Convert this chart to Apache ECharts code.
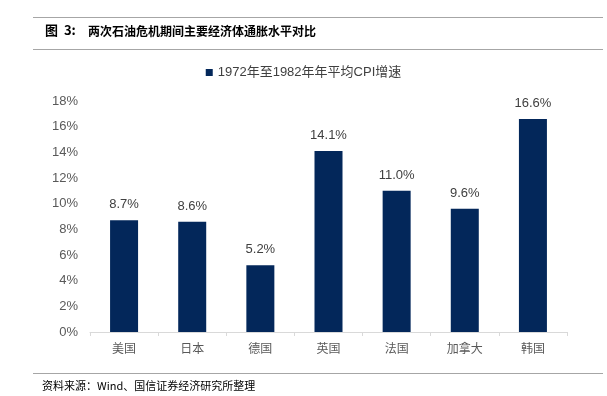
<!DOCTYPE html>
<html><head><meta charset="utf-8">
<script src="https://cdn.jsdelivr.net/npm/echarts@6/dist/echarts.min.js"></script>
<style>html,body{margin:0;padding:0;background:#fff}#c{width:607px;height:396px}</style>
</head><body><div id="c"></div>
<script>
const categories = ['美国','日本','德国','英国','法国','加拿大','韩国'];
const values = [8.7, 8.6, 5.2, 14.1, 11.0, 9.6, 16.6];
const seriesName = '1972年至1982年年平均CPI增速';
const titleNo = '图  3:';
const titleText = '两次石油危机期间主要经济体通胀水平对比';
const sourceText = '资料来源：Wind、国信证券经济研究所整理';
const yMin = 0, yMax = 18, yStep = 2;

const chart = echarts.init(document.getElementById('c'), null, {renderer:'canvas'});
chart.setOption({
  backgroundColor:'#fff',
  animation:false,
  grid:{left:90,right:40,top:101,bottom:64,containLabel:false},
  legend:{
    top:61,left:'center',itemWidth:7,itemHeight:7,itemGap:4,icon:'rect',
    data:[seriesName],
    textStyle:{fontFamily:'Liberation Sans, Noto Sans CJK SC',fontSize:13,color:'#404040'}
  },
  xAxis:{
    type:'category',data:categories,
    axisLine:{lineStyle:{color:'#d9d9d9',width:1}},
    axisTick:{show:true,alignWithLabel:false,length:4,lineStyle:{color:'#d9d9d9'}},
    axisLabel:{color:'#595959',fontSize:12,margin:10,fontFamily:'Noto Sans CJK SC'}
  },
  yAxis:{
    type:'value',min:yMin,max:yMax,interval:yStep,
    axisLine:{show:false},axisTick:{show:false},splitLine:{show:false},
    axisLabel:{color:'#595959',fontSize:13,margin:12,fontFamily:'Liberation Sans',
      formatter:v=>v+'%'}
  },
  series:[{
    name:seriesName,type:'bar',data:values,barWidth:28,
    itemStyle:{color:'#03275a'},
    label:{show:true,position:'top',distance:9,color:'#404040',fontSize:13,
      fontFamily:'Liberation Sans',formatter:p=>p.value.toFixed(1)+'%'}
  }],
  graphic:[
    {type:'line',shape:{x1:33,y1:17.5,x2:603,y2:17.5},style:{stroke:'#a6a6a6',lineWidth:1}},
    {type:'line',shape:{x1:33,y1:49.5,x2:603,y2:49.5},style:{stroke:'#a6a6a6',lineWidth:1}},
    {type:'text',left:45,top:24,style:{text:titleNo,fill:'#000',
      font:'bold 13px "Noto Sans CJK SC"'}},
    {type:'text',left:88,top:25,style:{text:titleText,fill:'#000',
      font:'bold 12px "Noto Sans CJK SC"'}},
    {type:'line',shape:{x1:33,y1:373.5,x2:603,y2:373.5},style:{stroke:'#a6a6a6',lineWidth:1}},
    {type:'text',left:42,top:380,style:{text:sourceText,fill:'#000',
      font:'11px "Noto Sans CJK SC"'}}
  ]
});
</script></body></html>
